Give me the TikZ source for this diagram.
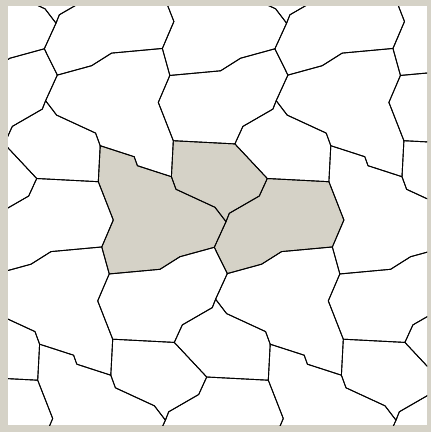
\documentclass[tikz,border=0pt]{standalone}
\usepackage{tikz}
\definecolor{cinza}{RGB}{213,210,199}

% as tres pecas da celula (coordenadas em px, y para baixo)
\newcommand\pecaA{(100.2,145.7) -- (134.2,156.7) -- (137.4,165.7) -- (171.4,176.7)
  -- (176,189.3) -- (215,207.3) -- (226,221.7) -- (214.3,247.3) -- (180,256.7)
  -- (160,269.3) -- (109.25,274) -- (101.75,247) -- (113.3,220) -- (98.3,181.7) -- cycle}
\newcommand\pecaB{(173.3,140.7) -- (234.9,143.9) -- (267.3,178.5) -- (259.3,196)
  -- (229.3,213.3) -- (226,221.7) -- (215,207.3) -- (176,189.3) -- (171.4,176.7) -- cycle}
\newcommand\pecaC{(267.3,178.5) -- (328.9,181.7) -- (343.9,220) -- (332.35,247)
  -- (281.6,251.6) -- (261.6,264.2) -- (227.3,273.6) -- (214.3,247.3) -- (226,221.7)
  -- (229.3,213.3) -- (259.3,196) -- cycle}

\begin{document}
\begin{tikzpicture}[
    x=1pt, y=-1pt,
    ladrilho/.style={draw=black, line width=0.9pt, line join=round},
    sombra/.style={fill=cinza}
  ]
  \useasboundingbox (0,0) rectangle (431,432);
  % moldura
  \fill[cinza] (0,0) rectangle (431,432);
  \fill[white] (8,6) rectangle (427,425);
  \begin{scope}
    \clip (8,6) rectangle (427,425);
    \fill[sombra] \pecaA;
    \fill[sombra] \pecaB;
    \fill[sombra] \pecaC;
    % rede: a=(230.6,0), b=(170,198.5), mais rotacao de 180 graus
    \foreach \m in {-2,...,2} {
      \foreach \n in {-2,...,2} {
        \begin{scope}[shift={(\m*230.6+\n*170,\n*198.5)}]
          \draw[ladrilho] \pecaA;
          \draw[ladrilho] \pecaB;
          \draw[ladrilho] \pecaC;
          \begin{scope}[rotate around={180:(135.8,161.2)}]
            \draw[ladrilho] \pecaA;
            \draw[ladrilho] \pecaB;
            \draw[ladrilho] \pecaC;
          \end{scope}
        \end{scope}
      }
    }
  \end{scope}
\end{tikzpicture}
\end{document}
